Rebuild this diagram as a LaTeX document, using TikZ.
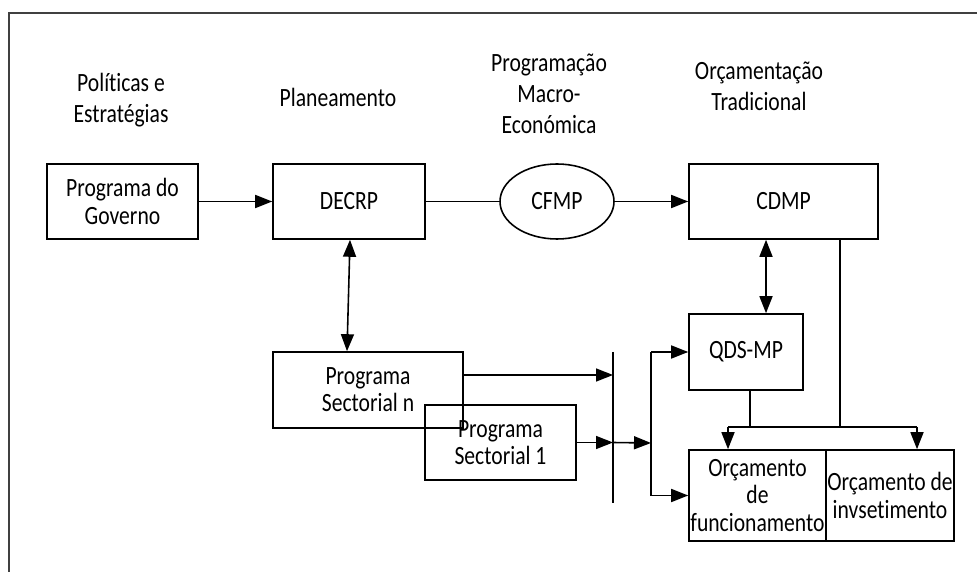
\documentclass[tikz,border=0pt]{standalone}
\usepackage{fontspec}
\setmainfont{Carlito}[FakeStretch=0.82, Ligatures=NoCommon]
\usepackage{tikz}
\usetikzlibrary{shapes.geometric, arrows.meta, positioning, calc}

\begin{document}
\begin{tikzpicture}[
    font=\fontsize{15}{15.5}\selectfont,
    line width=0.9pt,
    box/.style={rectangle, draw, line width=0.9pt, align=center, inner sep=0pt},
    oval/.style={ellipse, draw, line width=0.9pt, align=center, inner sep=1pt},
    msg/.style={-{Triangle[length=0.34cm, width=0.26cm]}},
    dbl/.style={{Triangle[length=0.34cm, width=0.26cm]}-{Triangle[length=0.34cm, width=0.26cm]}},
    head/.style={align=center, font=\fontsize{15}{17.5}\selectfont}
]
\useasboundingbox (0,0) rectangle (19.54,-11.44);

% Frame
\draw[line width=1.1pt, black!75] (0.18,-11.44) -- (0.18,-0.26) -- (19.54,-0.26);

% Headings
\node[head] (hpol) at (2.42,-2.0) {Políticas e\\Estratégias};
\node[head] (hplan) at (6.76,-1.94) {Planeamento};
\node[head] (hmacro) at (10.98,-1.88) {Programação\\Macro-\\Económica};
\node[head] (horc) at (15.18,-1.72) {Orçamentação\\Tradicional};

% Top row
\node[box, minimum width=3.02cm, minimum height=1.5cm] (gov) at (2.45,-4.03) {Programa do\\Governo};
\node[box, minimum width=3.04cm, minimum height=1.5cm] (decrp) at (6.98,-4.03) {DECRP};
\node[oval, minimum width=2.28cm, minimum height=1.5cm] (cfmp) at (11.14,-4.03) {CFMP};
\node[box, minimum width=3.78cm, minimum height=1.5cm] (cdmp) at (15.67,-4.03) {CDMP};

% Sector programmes
\node[box, minimum width=3.8cm, minimum height=1.52cm] (psn) at (7.36,-7.8) {Programa\\Sectorial n};
\node[box, minimum width=3.02cm, minimum height=1.5cm] (ps1) at (10.01,-8.85) {Programa\\Sectorial 1};

% Budget side
\node[box, minimum width=2.28cm, minimum height=1.52cm] (qds) at (14.92,-7.04) {QDS-MP};
\node[box, minimum width=2.74cm, minimum height=1.82cm] (ofun) at (15.15,-9.91) {Orçamento\\de\\funcionamento};
\node[box, minimum width=2.56cm, minimum height=1.82cm] (oinv) at (17.8,-9.91) {Orçamento de\\invsetimento};

% Bar and junctions
\coordinate (bartop) at (12.26,-7.04);
\coordinate (barbot) at (12.26,-10.06);
\coordinate (jn) at (13.02,-8.86);
\coordinate (split) at (16.8,-8.54);
\draw (bartop) -- (barbot);
\draw (qds.west -| jn) -- (ofun.west -| jn);

% Connectors
\draw[msg] (gov) -- (decrp);
\draw (decrp) -- (cfmp);
\draw[msg] (cfmp) -- (cdmp);
\draw[dbl] ([xshift=0.02cm]decrp.south) -- ([xshift=-0.42cm]psn.north);
\draw[dbl] ([xshift=-0.35cm]cdmp.south) -- ([xshift=0.4cm]qds.north);
\draw[msg] ([yshift=0.3cm]psn.east) -- ([yshift=0.3cm]psn.east -| bartop);
\draw[msg] (ps1.east) -- (ps1.east -| bartop);
\draw[msg] (ps1.east -| bartop) -- (jn);
\draw[msg] (qds.west -| jn) -- (qds.west);
\draw[msg] (ofun.west -| jn) -- (ofun.west);
\draw ([xshift=0.08cm]qds.south) -- ([xshift=0.08cm]qds.south |- split);
\draw ([xshift=1.13cm]cdmp.south) -- (split);
\draw[msg] ([xshift=-0.59cm]ofun.north |- split) -- ([xshift=-0.59cm]ofun.north);
\draw[msg] ([xshift=0.54cm]oinv.north |- split) -- ([xshift=0.54cm]oinv.north);
\draw ([xshift=-0.59cm]ofun.north |- split) -- ([xshift=0.54cm]oinv.north |- split);

\end{tikzpicture}
\end{document}
